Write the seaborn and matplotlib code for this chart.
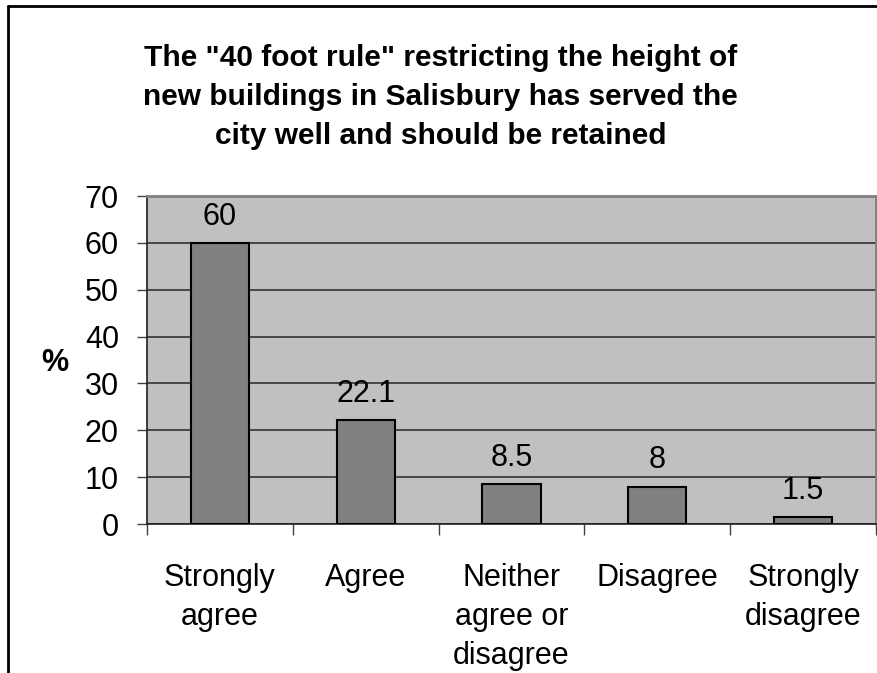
import matplotlib
matplotlib.use("Agg")
import matplotlib.pyplot as plt
from matplotlib.lines import Line2D
import seaborn as sns
import pandas as pd

# survey responses
categories = ["Strongly\nagree", "Agree", "Neither\nagree or\ndisagree", "Disagree", "Strongly\ndisagree"]
percentages = [60, 22.1, 8.5, 8, 1.5]
y_ticks = [0, 10, 20, 30, 40, 50, 60, 70]
title = ('The "40 foot rule" restricting the height of\n'
         'new buildings in Salisbury has served the\n'
         'city well and should be retained')

sns.set_style("white")
plt.rcParams["font.family"] = ["Liberation Sans", "DejaVu Sans"]
plt.rcParams["text.color"] = "black"
plt.rcParams["xtick.color"] = "black"
plt.rcParams["ytick.color"] = "black"
plt.rcParams["axes.labelcolor"] = "black"

df = pd.DataFrame({"category": categories, "pct": percentages})

W, H = 877, 673
fig = plt.figure(figsize=(W / 100, H / 100), dpi=100)
fig.patch.set_facecolor("white")

left, right, top, bottom = 147, 876, 196, 524
ax = fig.add_axes([left / W, 1 - bottom / H, (right - left) / W, (bottom - top) / H])
ax.set_facecolor("#C0C0C0")

sns.barplot(data=df, x="category", y="pct", color="#808080", width=0.4,
            edgecolor="black", linewidth=1.5, saturation=1, ax=ax, zorder=3)

for c in ax.containers:
    ax.bar_label(c, labels=[f"{v:g}" for v in percentages], padding=8, fontsize=22, color="black")

ax.set_ylim(0, 70)
ax.set_yticks(y_ticks)
ax.set_xlim(-0.5, len(categories) - 0.5)
ax.yaxis.grid(True, color="#333333", linewidth=1.2, zorder=1)
ax.set_axisbelow(True)

# category boundaries get ticks, labels sit between them
ax.set_xticks([i - 0.5 for i in range(len(categories) + 1)])
ax.set_xticklabels([])
ax.set_xticks(range(len(categories)), minor=True)
ax.set_xticklabels(categories, minor=True, fontsize=22, linespacing=1.4)
ax.tick_params(axis="x", which="major", direction="out", length=8, width=1, color="#404040", bottom=True)
ax.tick_params(axis="x", which="minor", length=0, pad=28)
ax.tick_params(axis="y", direction="out", length=7.2, width=1, color="#404040", pad=13, labelsize=22, left=True)

ax.set_xlabel("")
ax.set_ylabel("%", rotation=0, fontsize=22, fontweight="bold", ha="center", va="center")
ax.yaxis.set_label_coords((55 - left) / (right - left), 0.49)

for side in ["left", "bottom"]:
    ax.spines[side].set_color("#202020")
    ax.spines[side].set_linewidth(1.2)
for side in ["top", "right"]:
    ax.spines[side].set_color("#808080")
    ax.spines[side].set_linewidth(2)

fig.text(0.502, 1 - 97 / H, title, ha="center", va="center", fontsize=21.5,
         fontweight="bold", linespacing=1.5)

# outer chart border (cropped on right and bottom)
fig.add_artist(Line2D([8 / W, 1.0], [1 - 6 / H, 1 - 6 / H], color="black", linewidth=2, transform=fig.transFigure))
fig.add_artist(Line2D([8 / W, 8 / W], [0, 1 - 6 / H], color="black", linewidth=2, transform=fig.transFigure))

fig.savefig("out.png", dpi=100)
plt.close(fig)
